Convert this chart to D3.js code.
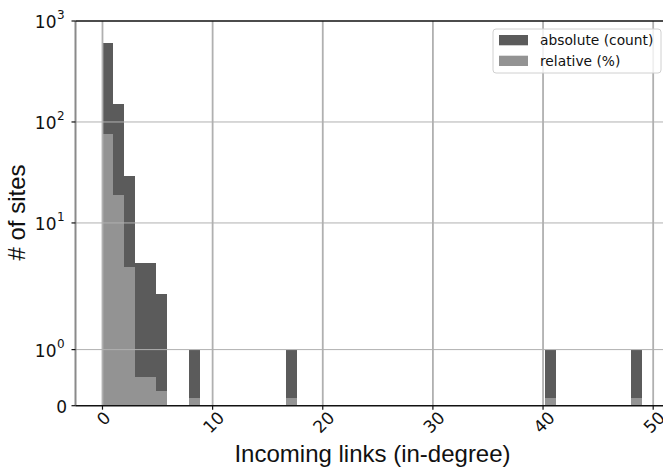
<!DOCTYPE html>
<meta charset="utf-8">
<script src="https://d3js.org/d3.v7.min.js"></script>
<style>
 body { margin: 0; background: #fff; }
 svg { display: block; }
</style>
<div id="chart"></div>
<script>

 // histogram: 50 bins spanning 0..49 in-degree
 const binCount = 50;
 const binMax = 49;
 const binIndex = [0, 1, 2, 3, 4, 5, 8, 17, 41, 49];
 const absoluteCount = [600, 150, 29, 4, 4, 2, 1, 1, 1, 1];
 const relativePct = [75.9, 19.0, 3.7, 0.52, 0.52, 0.27, 0.14, 0.14, 0.14, 0.14];

 const xTicks = [0, 10, 20, 30, 40, 50];
 const yTicks = [0, 1, 10, 100, 1000];
 const yTickExp = [null, "0", "1", "2", "3"];
 const legendLabels = ["absolute (count)", "relative (%)"];

 const colorAbs = "#5b5b5b";
 const colorRel = "#939393";
 const colorGrid = "#b0b0b0";

 const W = 663, H = 471;
 const plotLeft = 75.5, plotTop = 21, plotBottom = 405.7;

 const svg = d3.select("#chart").append("svg")
               .attr("width", W)
               .attr("height", H);

 // matplotlib-style symlog (linthresh 2, linscale 1)
 const linthresh = 2, linscaleAdj = 1 / (1 - 1 / 10);
 const symlog = v => v <= linthresh ? v * linscaleAdj
                   : linthresh * (linscaleAdj + Math.log10(v / linthresh));

 const x = d3.scaleLinear().domain([-2.45, 51.45]).range([plotLeft, plotLeft + 53.9 * 11.014]);
 const yLin = d3.scaleLinear().domain([0, symlog(1000)]).range([plotBottom, plotTop]);
 const y = v => yLin(symlog(v));

 const bw = binMax / binCount;
 const bins = binIndex.map((b, i) => ({x0: b * bw, x1: (b + 1) * bw, abs: absoluteCount[i], rel: relativePct[i]}));

 // bars
 svg.append("g").attr("shape-rendering", "crispEdges")
    .selectAll("rect").data(bins).join("rect")
    .attr("x", d => x(d.x0)).attr("width", d => x(d.x1) - x(d.x0))
    .attr("y", d => y(d.abs)).attr("height", d => plotBottom - y(d.abs))
    .attr("fill", colorAbs);
 svg.append("g").attr("shape-rendering", "crispEdges")
    .selectAll("rect").data(bins).join("rect")
    .attr("x", d => x(d.x0)).attr("width", d => x(d.x1) - x(d.x0))
    .attr("y", d => y(d.rel)).attr("height", d => plotBottom - y(d.rel))
    .attr("fill", colorRel);

 // grid
 svg.append("g").selectAll("line").data(xTicks).join("line")
    .attr("x1", d => x(d)).attr("x2", d => x(d))
    .attr("y1", plotTop).attr("y2", plotBottom)
    .attr("stroke", colorGrid).attr("stroke-width", 1.8);
 svg.append("g").selectAll("line").data(yTicks.slice(1, 4)).join("line")
    .attr("x1", plotLeft).attr("x2", W)
    .attr("y1", d => y(d)).attr("y2", d => y(d))
    .attr("stroke", colorGrid).attr("stroke-width", 1);

 // spines
 svg.append("line").attr("x1", plotLeft).attr("x2", plotLeft).attr("y1", plotTop).attr("y2", plotBottom)
    .attr("stroke", "#8a8a8a").attr("stroke-width", 2);
 svg.append("line").attr("x1", plotLeft).attr("x2", W).attr("y1", plotTop).attr("y2", plotTop)
    .attr("stroke", "#111").attr("stroke-width", 1.5);
 svg.append("line").attr("x1", plotLeft).attr("x2", W).attr("y1", plotBottom).attr("y2", plotBottom)
    .attr("stroke", "#111").attr("stroke-width", 1.5);

 // y ticks
 const yAxis = svg.append("g");
 yAxis.selectAll("line").data(yTicks).join("line")
      .attr("x1", plotLeft - 4).attr("x2", plotLeft)
      .attr("y1", d => y(d)).attr("y2", d => y(d))
      .attr("stroke", "#111").attr("stroke-width", 1.2);
 yAxis.selectAll("text.base").data(yTicks).join("text")
      .attr("class", "base")
      .attr("x", (d, i) => yTickExp[i] ? 56.5 : 67)
      .attr("y", d => y(d) + 7)
      .attr("text-anchor", "end")
      .style("font-family", "DejaVu Sans").style("font-size", "17px").style("fill", "#111")
      .text(d => d === 0 ? "0" : "10");
 yAxis.selectAll("text.sup").data(yTicks.filter((d, i) => yTickExp[i])).join("text")
      .attr("class", "sup")
      .attr("x", 57).attr("y", d => y(d) - 2)
      .style("font-family", "DejaVu Sans").style("font-size", "12px").style("fill", "#111")
      .text((d, i) => yTickExp[i + 1]);

 // x ticks
 const xAxis = svg.append("g");
 xAxis.selectAll("line").data(xTicks).join("line")
      .attr("x1", d => x(d)).attr("x2", d => x(d))
      .attr("y1", plotBottom).attr("y2", plotBottom + 4)
      .attr("stroke", "#111").attr("stroke-width", 1.2);
 xAxis.selectAll("text").data(xTicks).join("text")
      .attr("text-anchor", "middle").attr("dominant-baseline", "central")
      .style("font-family", "DejaVu Sans").style("font-size", "17px").style("fill", "#111")
      .text(d => d)
      .each(function (d) {
          const w = this.getComputedTextLength(), h = 13;
          const half = (w + h) / (2 * Math.SQRT2);
          d3.select(this).attr("transform", `translate(${x(d) + 1},${410 + half}) rotate(-45)`);
      });

 // axis titles
 svg.append("text")
    .attr("transform", `translate(25,212.5) rotate(-90)`)
    .attr("text-anchor", "middle")
    .style("font-family", "Liberation Sans").style("font-size", "24px").style("fill", "#111")
    .text("# of sites");
 svg.append("text")
    .attr("x", 372.5).attr("y", 462)
    .attr("text-anchor", "middle")
    .style("font-family", "Liberation Sans").style("font-size", "24px").style("fill", "#111")
    .text("Incoming links (in-degree)");

 // legend
 const legend = svg.append("g");
 legend.append("rect").attr("x", 493).attr("y", 29).attr("width", 168).attr("height", 44)
       .attr("rx", 3).attr("fill", "#fff").attr("fill-opacity", 0.8)
       .attr("stroke", "#d0d0d0").attr("stroke-width", 1);
 [colorAbs, colorRel].forEach((c, i) => {
     legend.append("rect").attr("x", 499).attr("y", 35 + i * 20.7).attr("width", 29).attr("height", 10.3)
           .attr("fill", c);
     legend.append("text").attr("x", 540).attr("y", 45 + i * 20.7)
           .style("font-family", "DejaVu Sans").style("font-size", "13.8px").style("fill", "#111")
           .text(legendLabels[i]);
 });

</script>
